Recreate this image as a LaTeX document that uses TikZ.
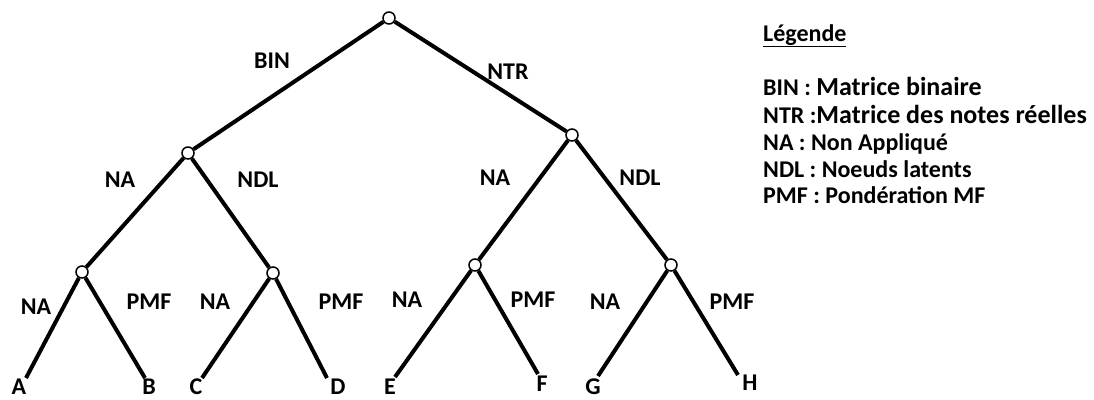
\documentclass[tikz,border=0pt]{standalone}
\usepackage{fontspec}
\setmainfont{Carlito}
\usetikzlibrary{arrows,shapes}
\pgfdeclarelayer{background}
\pgfsetlayers{background,main}
\tikzstyle{vertex}=[circle,draw=black,fill=white,line width=1.5pt,minimum size=12pt,inner sep=0pt]
\tikzstyle{edge} = [draw,line width=4pt,-]
\tikzstyle{elabel}=[font=\fontsize{24}{28}\selectfont\bfseries,inner sep=0pt]
\tikzstyle{legline}=[anchor=base west,inner sep=0pt,font=\fontsize{24}{28}\selectfont\bfseries]
\newcommand{\bigtxt}[1]{{\fontsize{26}{30}\selectfont #1}}

\begin{document}
\begin{tikzpicture}[x=1pt,y=-1pt]
    \useasboundingbox (0,0) rectangle (1094,399);
    % Draw the decision tree
    % First we draw the vertices
    \foreach \pos/\name in {{(389,18)/root}, {(188,153)/bin}, {(572,135)/ntr}, {(82,272)/binna}, {(273,273)/binndl}, {(475,265)/ntrna}, {(671,265)/ntrndl}}
        \node[vertex] (\name) at \pos {};
    % Free ends of the leaf edges
    \foreach \pos/\name in {{(26,378)/endA}, {(145,378)/endB}, {(202,378)/endC}, {(327,378)/endD}, {(395,377)/endE}, {(538,374)/endF}, {(598,376)/endG}, {(738,375)/endH}}
        \node[coordinate] (\name) at \pos {};
    % Leaf labels
    \foreach \pos/\name/\txt in {{(19,387)/leafA/A}, {(149,387)/leafB/B}, {(196,387)/leafC/C}, {(338,387)/leafD/D}, {(390,387)/leafE/E}, {(542,384)/leafF/F}, {(593,387)/leafG/G}, {(750,383)/leafH/H}}
        \node[elabel] (\name) at \pos {\txt};
    % Connect vertices with edges
    \begin{pgfonlayer}{background}
    \foreach \source/\dest in {root/bin, root/ntr, bin/binna, bin/binndl, ntr/ntrna, ntr/ntrndl, binna/endA, binna/endB, binndl/endC, binndl/endD, ntrna/endE, ntrna/endF, ntrndl/endG, ntrndl/endH}
        \path[edge] (\source) -- (\dest);
    \end{pgfonlayer}
    % Edge labels
    \foreach \pos/\name/\txt in {{(272,61)/lbin/BIN}, {(508,72)/lntr/NTR}, {(120,180)/lbinna/NA}, {(258,180)/lbinndl/NDL}, {(495,178)/lntrna/NA}, {(640,178)/lntrndl/NDL}, {(36,307)/lna1/NA}, {(149,302)/lpmf1/PMF}, {(215,302)/lna2/NA}, {(341,302)/lpmf2/PMF}, {(407,300)/lna3/NA}, {(533,300)/lpmf3/PMF}, {(605,302)/lna4/NA}, {(732,302)/lpmf4/PMF}}
        \node[elabel] (\name) at \pos {\txt};
    % Legend
    \node[legline] (legtitle) at (763,41) {\underline{Légende}};
    \foreach \y/\name/\txt in {95/legbin/{BIN : \bigtxt{Matrice binaire}}, 123/legntr/{NTR :\bigtxt{Matrice des notes réelles}}, 150/legna/{NA : Non Appliqué}, 177/legndl/{NDL : Noeuds latents}, 203/legpmf/{PMF : Pondération MF}}
        \node[legline] (\name) at (763,\y) {\txt};
\end{tikzpicture}
\end{document}
